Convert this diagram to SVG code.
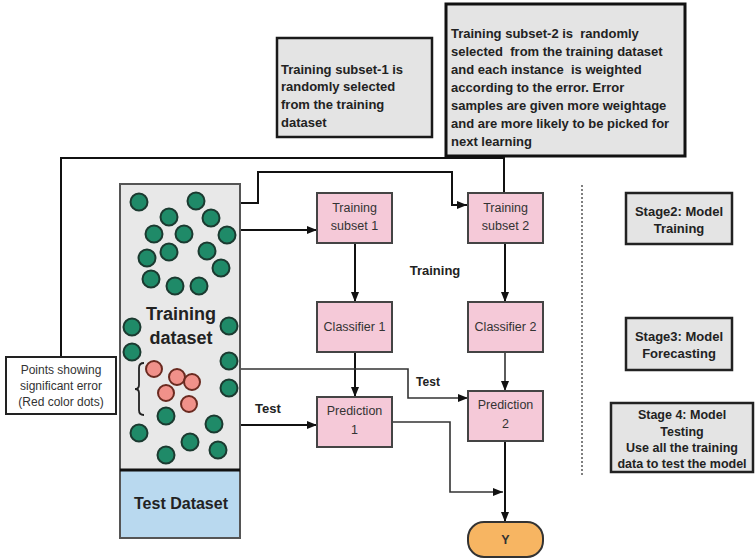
<svg xmlns="http://www.w3.org/2000/svg" width="756" height="559" viewBox="0 0 756 559">
<style>
text{font-family:"Liberation Sans",Arial,sans-serif;fill:#222}
.note{fill:#e4e4e4;stroke:#1a1a1a;stroke-width:2.5}
.pink{fill:#f5c9d8;stroke:#444;stroke-width:2}
.pt{font-size:12.5px;fill:#333;text-anchor:middle}
.nb{font-size:13px;font-weight:bold;white-space:pre}
.stage{fill:#e4e4e4;stroke:#222;stroke-width:2.5}
.st{font-size:13px;font-weight:bold;text-anchor:middle}
.g{fill:#1f8a68;stroke:#1b3a30;stroke-width:2}
.r{fill:#f0918a;stroke:#6a2a20;stroke-width:2}
.c{fill:none;stroke:#111;stroke-width:2}
.c2{fill:none;stroke:#333;stroke-width:1.6}
</style>
<defs>
<marker id="ah" markerWidth="10" markerHeight="8" refX="10" refY="4" orient="auto" markerUnits="userSpaceOnUse">
<path d="M0,0 L10,4 L0,8 Z" fill="#111"/>
</marker>
</defs>
<rect width="756" height="559" fill="#fff"/>

<g id="note1">
<rect class="note" x="277" y="38" width="155" height="99"/>
<text class="nb" x="281" y="74">Training subset-1 is</text>
<text class="nb" x="281" y="91">randomly selected</text>
<text class="nb" x="281" y="109">from the training</text>
<text class="nb" x="281" y="127">dataset</text>
</g>

<g id="note2">
<rect x="446" y="4" width="239" height="152" fill="#e4e4e4" stroke="#111" stroke-width="3"/>
<text class="nb" x="451" y="38" xml:space="preserve">Training subset-2 is  randomly</text>
<text class="nb" x="451" y="56" xml:space="preserve">selected  from the training dataset</text>
<text class="nb" x="451" y="74" xml:space="preserve">and each instance  is weighted</text>
<text class="nb" x="451" y="92">according to the error. Error</text>
<text class="nb" x="451" y="110">samples are given more weightage</text>
<text class="nb" x="451" y="128">and are more likely to be picked for</text>
<text class="nb" x="451" y="146">next learning</text>
</g>

<g id="connectors">
<path class="c" d="M61,357 V158 H504"/>
<path class="c" d="M504,156 V193"/>
<path class="c" d="M240,203 H258 V172 H452 V205 H467" marker-end="url(#ah)"/>
<path class="c" d="M240,230 H317" marker-end="url(#ah)"/>
<path class="c" d="M355,243 V302" marker-end="url(#ah)"/>
<path class="c" d="M505,243 V302" marker-end="url(#ah)"/>
<path class="c" d="M355,352 V397" marker-end="url(#ah)"/>
<path class="c2" d="M505,352 V391" marker-end="url(#ah)"/>
<path class="c2" d="M240,369 H408 V398 H468" marker-end="url(#ah)"/>
<path class="c" d="M240,425 H317" marker-end="url(#ah)"/>
<path class="c2" d="M392,422 H450 V492 H503" marker-end="url(#ah)"/>
<path class="c" d="M505,441 V522" marker-end="url(#ah)"/>
<line x1="582" y1="185" x2="582" y2="476" stroke="#555" stroke-width="1.5" stroke-dasharray="2,2"/>
</g>

<g id="points-note">
<rect x="6" y="357" width="110" height="57" fill="#fff" stroke="#222" stroke-width="2"/>
<text class="pt" x="61" y="374" style="font-size:12px">Points showing</text>
<text class="pt" x="61" y="390" style="font-size:12px">significant error</text>
<text class="pt" x="61" y="406" style="font-size:12px">(Red color dots)</text>
</g>

<g id="dataset">
<rect x="120" y="184" width="120" height="286" fill="#e8e8e8" stroke="#555" stroke-width="2"/>
<rect x="120" y="470" width="120" height="68" fill="#b9d9ef" stroke="#555" stroke-width="2"/>
<line x1="120" y1="470" x2="240" y2="470" stroke="#111" stroke-width="3"/>
<text x="181" y="320" text-anchor="middle" font-size="18" font-weight="bold" fill="#3a3a3a">Training</text>
<text x="181" y="344" text-anchor="middle" font-size="18" font-weight="bold" fill="#3a3a3a">dataset</text>
<text x="181" y="509" text-anchor="middle" font-size="16" font-weight="bold" fill="#1e2a3a">Test Dataset</text>
<g id="green-dots">
<circle class="g" cx="139" cy="202" r="8.5"/>
<circle class="g" cx="196" cy="201" r="8.5"/>
<circle class="g" cx="169" cy="217" r="8.5"/>
<circle class="g" cx="211" cy="218" r="8.5"/>
<circle class="g" cx="154" cy="234" r="8.5"/>
<circle class="g" cx="184" cy="234" r="8.5"/>
<circle class="g" cx="227" cy="235" r="8.5"/>
<circle class="g" cx="169" cy="252" r="8.5"/>
<circle class="g" cx="207" cy="251" r="8.5"/>
<circle class="g" cx="147" cy="258" r="8.5"/>
<circle class="g" cx="221" cy="268" r="8.5"/>
<circle class="g" cx="151" cy="279" r="8.5"/>
<circle class="g" cx="175" cy="286" r="8.5"/>
<circle class="g" cx="199" cy="286" r="8.5"/>
<circle class="g" cx="132" cy="327" r="8.5"/>
<circle class="g" cx="229" cy="326" r="8.5"/>
<circle class="g" cx="132" cy="352" r="8.5"/>
<circle class="g" cx="229" cy="361" r="8.5"/>
<circle class="g" cx="229" cy="388" r="8.5"/>
<circle class="g" cx="166" cy="416" r="8.5"/>
<circle class="g" cx="214" cy="424" r="8.5"/>
<circle class="g" cx="139" cy="433" r="8.5"/>
<circle class="g" cx="190" cy="442" r="8.5"/>
<circle class="g" cx="218" cy="450" r="8.5"/>
<circle class="g" cx="166" cy="455" r="8.5"/>
</g>
<g id="red-dots">
<circle class="r" cx="154" cy="369" r="8"/>
<circle class="r" cx="177" cy="377" r="8"/>
<circle class="r" cx="192" cy="382" r="8"/>
<circle class="r" cx="166" cy="393" r="8"/>
<circle class="r" cx="189" cy="404" r="8"/>
</g>
<path d="M144,363 Q139,363 139,368 V385 Q139,389 135,389 Q139,389 139,393 V410 Q139,415 144,415" fill="none" stroke="#222" stroke-width="1.8"/>
</g>

<g id="training-subset-1">
<rect class="pink" x="317" y="193" width="75" height="50"/>
<text class="pt" x="354.5" y="212">Training</text>
<text class="pt" x="354.5" y="230">subset 1</text>
</g>
<g id="training-subset-2">
<rect class="pink" x="468" y="193" width="75" height="50"/>
<text class="pt" x="505.5" y="212">Training</text>
<text class="pt" x="505.5" y="230">subset 2</text>
</g>
<g id="classifier-1">
<rect class="pink" x="317" y="302" width="75" height="50"/>
<text class="pt" x="354.5" y="331">Classifier 1</text>
</g>
<g id="classifier-2">
<rect class="pink" x="468" y="302" width="75" height="50"/>
<text class="pt" x="505.5" y="331">Classifier 2</text>
</g>
<g id="prediction-1">
<rect class="pink" x="317" y="397" width="75" height="50"/>
<text class="pt" x="354.5" y="415">Prediction</text>
<text class="pt" x="354.5" y="434">1</text>
</g>
<g id="prediction-2">
<rect class="pink" x="468" y="391" width="75" height="50"/>
<text class="pt" x="505.5" y="409">Prediction</text>
<text class="pt" x="505.5" y="428">2</text>
</g>
<g id="y">
<rect x="468" y="522" width="75" height="35" rx="16" ry="16" fill="#f7b562" stroke="#333" stroke-width="2"/>
<text class="pt" x="505.5" y="544" style="font-weight:bold">Y</text>
</g>

<g id="labels">
<text x="435" y="275" text-anchor="middle" font-size="13" font-weight="bold" fill="#333">Training</text>
<text x="428" y="386" text-anchor="middle" font-size="12" font-weight="bold">Test</text>
<text x="268" y="413" text-anchor="middle" font-size="13" font-weight="bold">Test</text>
</g>

<g id="stage2">
<rect class="stage" x="626" y="193" width="106" height="51"/>
<text class="st" x="679" y="216">Stage2: Model</text>
<text class="st" x="679" y="233">Training</text>
</g>
<g id="stage3">
<rect class="stage" x="626" y="318" width="106" height="52"/>
<text class="st" x="679" y="341">Stage3: Model</text>
<text class="st" x="679" y="358">Forecasting</text>
</g>
<g id="stage4">
<rect class="stage" x="611" y="403" width="142" height="69"/>
<text class="st" x="682" y="419" style="font-size:12.5px">Stage 4: Model</text>
<text class="st" x="682" y="436" style="font-size:12.5px">Testing</text>
<text class="st" x="682" y="452" style="font-size:12.5px">Use all the training</text>
<text class="st" x="682" y="468" style="font-size:12.5px">data to test the model</text>
</g>
</svg>
